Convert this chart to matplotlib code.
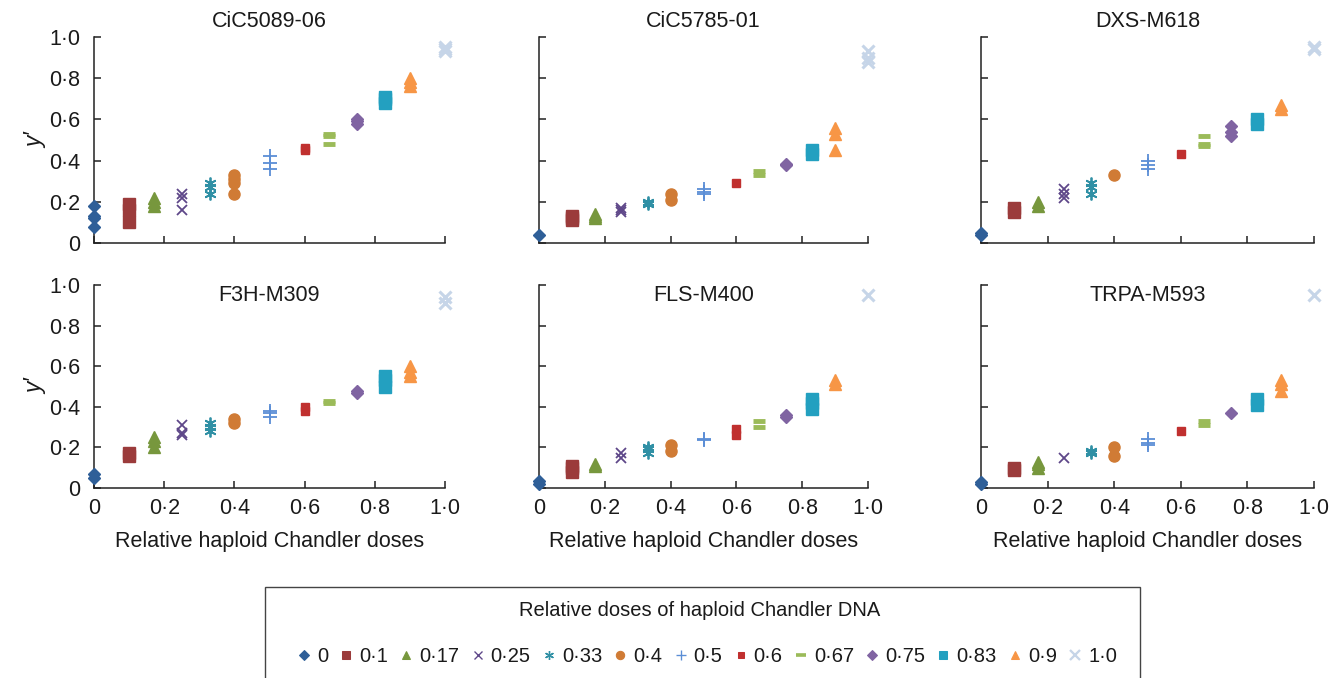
import matplotlib
matplotlib.use("Agg")
import matplotlib.pyplot as plt
from matplotlib.lines import Line2D
from matplotlib.patches import Rectangle

plt.rcParams['font.family'] = ['Liberation Sans', 'DejaVu Sans']

doses = [0, 0.1, 0.17, 0.25, 0.33, 0.4, 0.5, 0.6, 0.67, 0.75, 0.83, 0.9, 1.0]
dose_labels = ['0', '0·1', '0·17', '0·25', '0·33', '0·4', '0·5', '0·6', '0·67', '0·75', '0·83', '0·9', '1·0']
panel_titles = ['CiC5089-06', 'CiC5785-01', 'DXS-M618', 'F3H-M309', 'FLS-M400', 'TRPA-M593']

cic5089_06 = [[0.08, 0.12, 0.13, 0.18], [0.10, 0.16, 0.19], [0.18, 0.20, 0.22], [0.16, 0.22, 0.24],
              [0.24, 0.27, 0.29], [0.24, 0.29, 0.31, 0.33], [0.36, 0.39, 0.42], [0.45, 0.46],
              [0.48, 0.52, 0.53], [0.58, 0.59, 0.60], [0.68, 0.70, 0.71], [0.76, 0.78, 0.80],
              [0.93, 0.94, 0.95]]
cic5785_01 = [[0.04], [0.11, 0.12, 0.13], [0.12, 0.13, 0.14], [0.15, 0.16, 0.17], [0.19, 0.20],
              [0.21, 0.24], [0.24, 0.25, 0.26], [0.29], [0.33, 0.35], [0.38, 0.385], [0.43, 0.45],
              [0.45, 0.53, 0.56], [0.88, 0.90, 0.93]]
dxs_m618 = [[0.04, 0.05], [0.15, 0.17], [0.18, 0.20], [0.22, 0.24, 0.26], [0.24, 0.27, 0.29],
            [0.33], [0.36, 0.38, 0.40], [0.43], [0.47, 0.48, 0.52], [0.52, 0.54, 0.57],
            [0.58, 0.60], [0.65, 0.67], [0.94, 0.95]]
f3h_m309 = [[0.05, 0.07], [0.16, 0.17], [0.20, 0.23, 0.25], [0.26, 0.27, 0.31], [0.28, 0.30, 0.32],
            [0.32, 0.34], [0.35, 0.37, 0.38], [0.38, 0.40], [0.42, 0.43], [0.47, 0.48],
            [0.50, 0.53, 0.55], [0.55, 0.57, 0.60], [0.91, 0.94]]
fls_m400 = [[0.02, 0.035], [0.08, 0.10, 0.11], [0.11, 0.12], [0.15, 0.17], [0.17, 0.19, 0.20],
            [0.18, 0.21], [0.235, 0.24], [0.26, 0.29], [0.30, 0.33], [0.35, 0.36],
            [0.39, 0.42, 0.44], [0.51, 0.53], [0.95]]
trpa_m593 = [[0.02, 0.03], [0.09, 0.10], [0.10, 0.12, 0.13], [0.15], [0.17, 0.18], [0.16, 0.20],
             [0.21, 0.22, 0.24], [0.28], [0.31, 0.33], [0.37], [0.41, 0.44], [0.48, 0.51, 0.53],
             [0.95]]
panels = [cic5089_06, cic5785_01, dxs_m618, f3h_m309, fls_m400, trpa_m593]

colors = ['#2f5f98', '#9b3b3b', '#77973d', '#5e4789', '#3090a5', '#d07b35', '#5b8ed6',
          '#c0302f', '#9bbb59', '#8064a2', '#23a0c0', '#f79646', '#c6d5e8']
markers = ['D', 's', '^', 'x', (6, 2, 0), 'o', '+', 's', '_', 'D', 's', '^', 'x']
msizes = [6.5, 8.5, 8, 7.5, 8.5, 8, 10, 5.5, 9, 6.5, 8.5, 8, 9]
mews = [1, 1, 1, 1.3, 1.3, 1, 1.3, 1, 3.5, 1, 1, 1, 2.2]

W, H = 1331, 678
fig = plt.figure(figsize=(W / 100, H / 100), dpi=100)

lefts = [94, 539, 981]
widths = [351, 329, 333]
row_tops = [37, 285]
row_bots = [243, 488]

ticks = [0, 0.2, 0.4, 0.6, 0.8, 1.0]
tick_lbls = ['0', '0·2', '0·4', '0·6', '0·8', '1·0']
fs = 15.5
tc = '#1a1a1a'

for i, data in enumerate(panels):
    r, c = divmod(i, 3)
    x0 = lefts[c] / W
    w = widths[c] / W
    y0 = 1 - row_bots[r] / H
    h = (row_bots[r] - row_tops[r]) / H
    ax = fig.add_axes([x0, y0, w, h])
    for j, d in enumerate(doses):
        ys = data[j]
        ax.plot([d] * len(ys), ys, linestyle='None', marker=markers[j], color=colors[j],
                markersize=msizes[j], markeredgewidth=mews[j], clip_on=False, zorder=3)
    ax.set_xlim(0, 1)
    ax.set_ylim(0, 1)
    for s in ['top', 'right']:
        ax.spines[s].set_visible(False)
    for s in ['left', 'bottom']:
        ax.spines[s].set_color('#222222')
        ax.spines[s].set_linewidth(1.1)
    ax.set_xticks(ticks)
    ax.set_yticks(ticks)
    ax.tick_params(direction='in', length=5, width=1.1, color='#222222', labelsize=fs,
                   labelcolor=tc)
    ax.tick_params(axis='y', pad=10)
    ax.tick_params(axis='x', pad=7)
    if c == 0:
        ax.set_yticklabels(tick_lbls)
        ax.set_ylabel('y′', fontsize=fs + 1, style='italic', labelpad=1, color=tc)
    else:
        ax.set_yticklabels([])
    if r == 1:
        ax.set_xticklabels(tick_lbls)
        ax.set_xlabel('Relative haploid Chandler doses', fontsize=fs, labelpad=9, color=tc)
    else:
        ax.set_xticklabels([])
    if r == 0:
        ax.text(0.5, 1.073, panel_titles[i], transform=ax.transAxes, ha='center',
                va='center', fontsize=fs, color=tc)
    else:
        ax.text(0.5, 0.946, panel_titles[i], transform=ax.transAxes, ha='center',
                va='center', fontsize=fs, color=tc)

# legend box
fig.patches.append(Rectangle((265 / W, -0.02), (1140 - 265) / W, 0.02 + 1 - 587 / H,
                             transform=fig.transFigure, fill=False, edgecolor='#444444',
                             linewidth=1.0))
fig.text(700 / W, 1 - 611 / H, 'Relative doses of haploid Chandler DNA', ha='center',
         va='center', fontsize=14.5, color=tc)
handles = [Line2D([], [], linestyle='None', marker=markers[j], color=colors[j],
                  markersize=msizes[j] * 0.75, markeredgewidth=mews[j] * 0.75)
           for j in range(len(doses))]
fig.legend(handles, dose_labels, loc='center', bbox_to_anchor=(707 / W, 1 - 657 / H),
           ncol=13, frameon=False, fontsize=14.5, handlelength=0.7, handletextpad=0.3,
           columnspacing=0.55, borderpad=0, labelcolor=tc)

fig.savefig('out.png', dpi=100)
